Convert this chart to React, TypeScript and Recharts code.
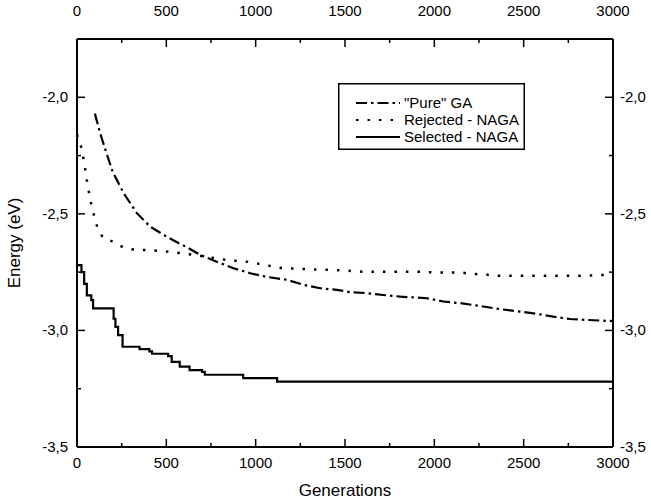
import React from 'react';
import { LineChart, Line, XAxis, YAxis, Legend, Label } from 'recharts';

const xTicks = [0, 250, 500, 750, 1000, 1250, 1500, 1750, 2000, 2250, 2500, 2750, 3000];
const yTicks = [-3.5, -3.25, -3.0, -2.75, -2.5, -2.25, -2.0];

const seriesNames = ['"Pure" GA', 'Rejected - NAGA', 'Selected - NAGA'];

const gaGen = [100, 130, 165, 200, 260, 335, 410, 500, 570, 620, 690, 765, 875, 970, 1060, 1175, 1270, 1360, 1455, 1530, 1620, 1715, 1810, 1900, 1960, 2050, 2145, 2255, 2370, 2480, 2575, 2665, 2760, 2855, 3000];
const gaEnergy = [-2.07, -2.155, -2.24, -2.32, -2.41, -2.497, -2.555, -2.597, -2.626, -2.645, -2.676, -2.7, -2.733, -2.755, -2.77, -2.783, -2.805, -2.819, -2.826, -2.836, -2.84, -2.848, -2.855, -2.859, -2.862, -2.876, -2.883, -2.895, -2.909, -2.919, -2.929, -2.941, -2.951, -2.955, -2.96];

const rejGen = [0, 7, 26, 35, 45, 54, 63, 73, 88, 101, 119, 147, 200, 250, 306, 371, 446, 511, 558, 688, 856, 930, 1000, 1060, 1110, 1165, 1250, 1350, 1420, 1535, 1600, 1900, 2030, 2150, 2220, 2285, 2340, 2800, 2960, 3000];
const rejEnergy = [-2.16, -2.183, -2.218, -2.257, -2.304, -2.351, -2.39, -2.437, -2.483, -2.526, -2.569, -2.604, -2.619, -2.64, -2.652, -2.655, -2.658, -2.662, -2.666, -2.68, -2.7, -2.702, -2.712, -2.719, -2.73, -2.733, -2.736, -2.739, -2.74, -2.745, -2.748, -2.748, -2.752, -2.752, -2.758, -2.76, -2.765, -2.766, -2.762, -2.762];

const selGen = [0, 25, 40, 55, 80, 90, 205, 215, 230, 255, 350, 405, 420, 510, 530, 575, 630, 700, 715, 930, 1120, 3000];
const selEnergy = [-2.72, -2.75, -2.8, -2.85, -2.87, -2.905, -2.95, -2.985, -3.02, -3.07, -3.08, -3.09, -3.1, -3.11, -3.135, -3.155, -3.17, -3.178, -3.19, -3.205, -3.22, -3.22];

const toRows = (g: number[], e: number[]) => g.map((x, i) => ({ g: x, e: e[i] }));
const gaRows = toRows(gaGen, gaEnergy);
const rejRows = toRows(rejGen, rejEnergy);
const selRows = toRows(selGen, selEnergy);

const FONT = '"Liberation Sans", Arial, Helvetica, sans-serif';
const TICK_FS = 15;
const TITLE_FS = 17;
const GA_DASH = '11 4 2.5 4';
const REJ_DASH = '2.5 9';

const isMajorX = (v: number) => v % 500 === 0;
const isMajorY = (v: number) => Math.abs(v * 2 - Math.round(v * 2)) < 1e-6;
const fmtY = (v: number) => v.toFixed(1).replace('.', ',');

const BottomTick = (p: any) => {
  const { x, y, payload } = p;
  const major = isMajorX(payload.value);
  return (
    <g>
      <line x1={x} x2={x} y1={y} y2={y - (major ? 8 : 4)} stroke="#000" strokeWidth={1.5} />
      {major && (
        <text x={x} y={y + 21} textAnchor="middle" fontFamily={FONT} fontSize={TICK_FS} fill="#000">
          {payload.value}
        </text>
      )}
    </g>
  );
};

const TopTick = (p: any) => {
  const { x, y, payload } = p;
  const major = isMajorX(payload.value);
  return (
    <g>
      <line x1={x} x2={x} y1={y} y2={y + (major ? 8 : 4)} stroke="#000" strokeWidth={1.5} />
      {major && (
        <text x={x} y={y - 23} textAnchor="middle" fontFamily={FONT} fontSize={TICK_FS} fill="#000">
          {payload.value}
        </text>
      )}
    </g>
  );
};

const LeftTick = (p: any) => {
  const { x, y, payload } = p;
  const major = isMajorY(payload.value);
  return (
    <g>
      <line x1={x} x2={x + (major ? 8 : 4)} y1={y} y2={y} stroke="#000" strokeWidth={1.5} />
      {major && (
        <text x={x - 9} y={y + 5} textAnchor="end" fontFamily={FONT} fontSize={TICK_FS} fill="#000">
          {fmtY(payload.value)}
        </text>
      )}
    </g>
  );
};

const RightTick = (p: any) => {
  const { x, y, payload } = p;
  const major = isMajorY(payload.value);
  return (
    <g>
      <line x1={x} x2={x - (major ? 8 : 4)} y1={y} y2={y} stroke="#000" strokeWidth={1.5} />
      {major && (
        <text x={x + 7} y={y + 5} textAnchor="start" fontFamily={FONT} fontSize={TICK_FS} fill="#000">
          {fmtY(payload.value)}
        </text>
      )}
    </g>
  );
};

const LegendBox = () => {
  const rows = [
    { name: seriesNames[0], dash: GA_DASH },
    { name: seriesNames[1], dash: REJ_DASH },
    { name: seriesNames[2], dash: undefined },
  ];
  return (
    <svg width={187} height={67} style={{ display: 'block', overflow: 'visible' }}>
      <rect x={0.75} y={0.75} width={185.5} height={65.5} fill="#fff" stroke="#000" strokeWidth={1.5} />
      {rows.map((r, i) => (
        <g key={r.name}>
          <line x1={18} x2={62} y1={20 + i * 17} y2={20 + i * 17} stroke="#000" strokeWidth={2.2} strokeDasharray={r.dash} />
          <text x={66} y={25 + i * 17} fontFamily={FONT} fontSize={15} fill="#000">
            {r.name}
          </text>
        </g>
      ))}
    </svg>
  );
};

export default function App() {
  return (
    <div style={{ position: 'absolute', left: 0, top: 0, width: 651, height: 504, background: '#fff' }}>
      <LineChart width={651} height={504} margin={{ top: 0, right: 0, bottom: 0, left: 0 }}>
        <XAxis
          xAxisId="b"
          type="number"
          dataKey="g"
          domain={[0, 3000]}
          ticks={xTicks}
          interval={0}
          orientation="bottom"
          height={57}
          tickSize={0}
          tickMargin={0}
          tick={BottomTick}
          axisLine={{ stroke: '#000', strokeWidth: 2 }}
          allowDataOverflow
        >
          <Label
            content={(lp: any) => {
              const vb = lp.viewBox || {};
              return (
                <text x={vb.x + vb.width / 2} y={vb.y + 49} textAnchor="middle" fontFamily={FONT} fontSize={TITLE_FS} fill="#000">
                  Generations
                </text>
              );
            }}
          />
        </XAxis>
        <XAxis
          xAxisId="t"
          type="number"
          dataKey="g"
          domain={[0, 3000]}
          ticks={xTicks}
          interval={0}
          orientation="top"
          height={39}
          tickSize={0}
          tickMargin={0}
          tick={TopTick}
          axisLine={{ stroke: '#000', strokeWidth: 2 }}
          allowDataOverflow
        />
        <YAxis
          yAxisId="l"
          type="number"
          domain={[-3.5, -1.75]}
          ticks={yTicks}
          interval={0}
          orientation="left"
          width={77}
          tickSize={0}
          tickMargin={0}
          tick={LeftTick}
          axisLine={{ stroke: '#000', strokeWidth: 2 }}
          allowDataOverflow
        >
          <Label
            content={(lp: any) => {
              const vb = lp.viewBox || {};
              const cx = vb.x + 14;
              const cy = vb.y + vb.height / 2;
              return (
                <text x={cx} y={cy} transform={`rotate(-90 ${cx} ${cy})`} textAnchor="middle" dominantBaseline="central" fontFamily={FONT} fontSize={TITLE_FS} fill="#000">
                  Energy (eV)
                </text>
              );
            }}
          />
        </YAxis>
        <YAxis
          yAxisId="r"
          type="number"
          domain={[-3.5, -1.75]}
          ticks={yTicks}
          interval={0}
          orientation="right"
          width={38}
          tickSize={0}
          tickMargin={0}
          tick={RightTick}
          axisLine={{ stroke: '#000', strokeWidth: 2 }}
          allowDataOverflow
        />
        <Line
          name={seriesNames[0]}
          data={gaRows}
          dataKey="e"
          xAxisId="b"
          yAxisId="l"
          type="linear"
          stroke="#000"
          strokeWidth={2.2}
          strokeDasharray={GA_DASH}
          dot={false}
          activeDot={false}
          isAnimationActive={false}
        />
        <Line
          name={seriesNames[1]}
          data={rejRows}
          dataKey="e"
          xAxisId="b"
          yAxisId="l"
          type="linear"
          stroke="#000"
          strokeWidth={2.5}
          strokeDasharray={REJ_DASH}
          dot={false}
          activeDot={false}
          isAnimationActive={false}
        />
        <Line
          name={seriesNames[2]}
          data={selRows}
          dataKey="e"
          xAxisId="b"
          yAxisId="l"
          type="stepAfter"
          stroke="#000"
          strokeWidth={2.2}
          dot={false}
          activeDot={false}
          isAnimationActive={false}
        />
        <Legend
          layout="vertical"
          align="center"
          verticalAlign="middle"
          content={LegendBox}
          wrapperStyle={{ position: 'absolute', left: 338, top: 83, width: 187, height: 67, margin: 0 }}
        />
      </LineChart>
    </div>
  );
}
